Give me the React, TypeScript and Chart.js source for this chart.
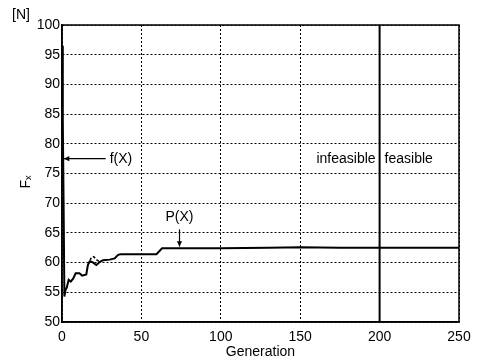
import React, { useEffect, useRef } from "react";
import { Chart, registerables } from "chart.js";

Chart.register(...registerables);

// Axis ranges and tick spacing
const generationRange = [0, 250];
const generationStep = 50;
const forceRange = [50, 100];
const forceStep = 5;

// Generation at which the search crosses from infeasible to feasible
const feasibleBoundary = 200;

// Penalised objective P(X) per generation
const pGenerations = [
  0, 0.5, 1, 1.5, 2.2, 3, 4.2, 5.5, 7, 8.6, 11, 12.7, 15.3, 16.3, 17.4, 19,
  21.6, 23.7, 25.8, 30, 33.2, 35.3, 37, 59.5, 63, 100, 130, 150, 175, 200, 250,
];
const pValues = [
  96.5, 84, 70, 54.3, 55.4, 55.8, 57.1, 56.8, 57.3, 58.2, 58.2, 57.8, 58.0, 59.6,
  60.2, 60.1, 59.6, 60.1, 60.4, 60.5, 60.7, 61.3, 61.4, 61.4, 62.4, 62.4, 62.5,
  62.6, 62.5, 62.5, 62.5,
];

// Raw objective f(X) where it separates from P(X)
const fGenerations = [16.3, 17.4, 18.5, 20, 21.6, 23.7];
const fValues = [59.6, 60.2, 60.9, 61.0, 60.5, 60.1];

const FONT = "'Liberation Sans', Arial, sans-serif";

function toPoints(xs: number[], ys: number[]) {
  return xs.map((x, i) => ({ x, y: ys[i] }));
}

function arrow(
  ctx: CanvasRenderingContext2D,
  x1: number,
  y1: number,
  x2: number,
  y2: number
) {
  const ang = Math.atan2(y2 - y1, x2 - x1);
  const head = 6;
  ctx.beginPath();
  ctx.moveTo(x1, y1);
  ctx.lineTo(x2, y2);
  ctx.stroke();
  ctx.beginPath();
  ctx.moveTo(x2, y2);
  ctx.lineTo(
    x2 - head * Math.cos(ang - 0.45),
    y2 - head * Math.sin(ang - 0.45)
  );
  ctx.lineTo(
    x2 - head * Math.cos(ang + 0.45),
    y2 - head * Math.sin(ang + 0.45)
  );
  ctx.closePath();
  ctx.fill();
}

const decorations = {
  id: "decorations",
  afterDraw(chart: any) {
    const { ctx, chartArea, scales } = chart;
    const xs = scales.x;
    const ys = scales.y;
    ctx.save();
    ctx.strokeStyle = "#000";
    ctx.fillStyle = "#000";
    ctx.setLineDash([]);

    // plot frame
    ctx.lineWidth = 1.5;
    ctx.strokeRect(
      chartArea.left,
      chartArea.top,
      chartArea.right - chartArea.left,
      chartArea.bottom - chartArea.top
    );

    // feasibility boundary
    const bx = xs.getPixelForValue(feasibleBoundary);
    ctx.lineWidth = 2;
    ctx.beginPath();
    ctx.moveTo(bx, chartArea.top);
    ctx.lineTo(bx, chartArea.bottom);
    ctx.stroke();

    ctx.font = `14px ${FONT}`;
    ctx.textBaseline = "middle";

    // region labels
    const ry = ys.getPixelForValue(77.4);
    ctx.textAlign = "right";
    ctx.fillText("infeasible", bx - 4, ry);
    ctx.textAlign = "left";
    ctx.fillText("feasible", bx + 5, ry);

    // f(X) pointer
    ctx.lineWidth = 1.2;
    const fy = ys.getPixelForValue(77.5);
    arrow(ctx, xs.getPixelForValue(27.5), fy, xs.getPixelForValue(1.2), fy);
    ctx.textAlign = "left";
    ctx.fillText("f(X)", xs.getPixelForValue(30), fy);

    // P(X) pointer
    const px = xs.getPixelForValue(74);
    arrow(ctx, px, ys.getPixelForValue(65.6), px, ys.getPixelForValue(62.7));
    ctx.textAlign = "center";
    ctx.fillText("P(X)", px, ys.getPixelForValue(67.6));

    // unit and axis titles
    ctx.textAlign = "center";
    ctx.fillText("[N]", 21, 15);
    ctx.fillText(
      "Generation",
      (chartArea.left + chartArea.right) / 2,
      chartArea.bottom + 30
    );
    ctx.translate(26, 182);
    ctx.rotate(-Math.PI / 2);
    ctx.fillText("Fₓ", 0, 0);

    ctx.restore();
  },
};

export default function App() {
  const canvasRef = useRef<HTMLCanvasElement | null>(null);

  useEffect(() => {
    const canvas = canvasRef.current;
    if (!canvas) return;
    const chart = new Chart(canvas, {
      type: "line",
      data: {
        datasets: [
          {
            label: "P(X)",
            data: toPoints(pGenerations, pValues),
            borderColor: "#000",
            borderWidth: 2,
            pointRadius: 0,
            tension: 0,
            fill: false,
          },
          {
            label: "f(X)",
            data: toPoints(fGenerations, fValues),
            borderColor: "#000",
            borderWidth: 1.5,
            borderDash: [3, 2],
            pointRadius: 0,
            tension: 0,
            fill: false,
          },
        ],
      },
      options: {
        responsive: false,
        animation: false,
        devicePixelRatio: 1,
        layout: { padding: { top: 25, right: 20, left: 0, bottom: 0 } },
        plugins: {
          legend: { display: false },
          tooltip: { enabled: false },
        },
        scales: {
          x: {
            type: "linear",
            min: generationRange[0],
            max: generationRange[1],
            ticks: {
              stepSize: generationStep,
              color: "#000",
              padding: 7,
              maxRotation: 0,
              font: { family: FONT, size: 14 },
            },
            grid: { color: "#000", lineWidth: 1, drawTicks: false },
            border: { display: true, color: "#000", width: 1.5, dash: [2, 2] },
            afterFit(scale: any) {
              scale.height = 41;
            },
          },
          y: {
            type: "linear",
            min: forceRange[0],
            max: forceRange[1],
            ticks: {
              stepSize: forceStep,
              color: "#000",
              padding: 2,
              font: { family: FONT, size: 14 },
            },
            grid: { color: "#000", lineWidth: 1, drawTicks: false },
            border: { display: true, color: "#000", width: 1.5, dash: [2, 2] },
            afterFit(scale: any) {
              scale.width = 62;
            },
          },
        },
      },
      plugins: [decorations],
    });
    return () => chart.destroy();
  }, []);

  return (
    <div
      style={{
        position: "absolute",
        left: 0,
        top: 0,
        width: 479,
        height: 363,
        background: "#fff",
      }}
    >
      <canvas ref={canvasRef} width={479} height={363} />
    </div>
  );
}
